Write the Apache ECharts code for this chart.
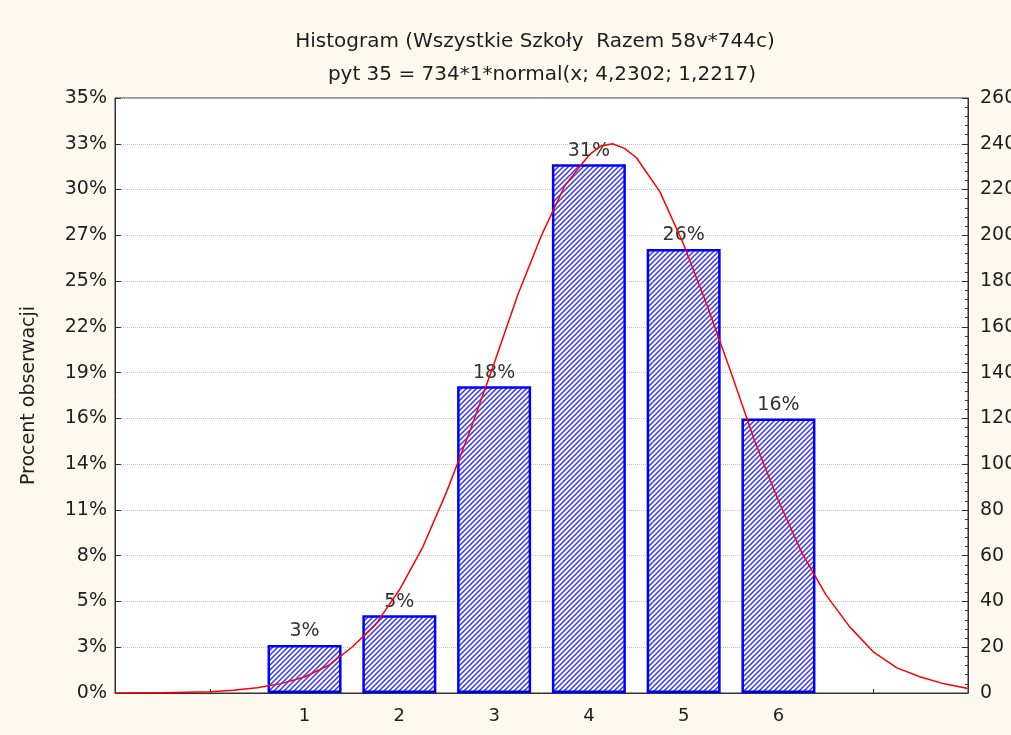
<!DOCTYPE html>
<html>
<head>
<meta charset="utf-8">
<script src="https://cdn.jsdelivr.net/npm/echarts@6/dist/echarts.min.js"></script>
<style>
  html, body { margin: 0; padding: 0; background: #fdf9ef; }
  #main { width: 1011px; height: 735px; }
</style>
</head>
<body>
<div id="main"></div>
<script>
const total = 734
const titleLines = ['Histogram (Wszystkie Szkoły  Razem 58v*744c)', 'pyt 35 = 734*1*normal(x; 4,2302; 1,2217)']
// histogram bins (liczebność)
const binX = [1, 2, 3, 4, 5, 6]
const binCount = [21, 34, 134, 231, 194, 120]
// fitted normal curve
const curveX = [-1, -0.5, 0, 0.25, 0.5, 0.75, 1, 1.25, 1.5, 1.75, 2, 2.25, 2.5, 2.75, 3, 3.25, 3.5, 3.75, 4, 4.125, 4.25, 4.375,
  4.5, 4.75, 5, 5.25, 5.5, 5.75, 6, 6.25, 6.5, 6.75, 7, 7.25, 7.5, 7.75, 8]
const curveY = [0, 0.1, 0.6, 1.2, 2.3, 4.1, 7, 12, 20, 30, 45, 64, 88, 115, 144, 174, 200, 222, 235, 239, 240, 238,
  234, 219, 196, 169, 140, 110, 84, 61, 43, 29, 18, 11, 7, 4, 2]

const font = '"DejaVu Sans", "Liberation Sans", sans-serif'
const txt = '#1e1e1e'

// diagonal hatch pattern for bars
const hatch = document.createElement('canvas')
hatch.width = 5
hatch.height = 5
const hc = hatch.getContext('2d')
hc.fillStyle = '#ffffff'
hc.fillRect(0, 0, 5, 5)
hc.strokeStyle = '#3535ff'
hc.lineWidth = 1.5
hc.beginPath()
hc.moveTo(-1, 6); hc.lineTo(6, -1)
hc.moveTo(-4, 4); hc.lineTo(4, -4)
hc.moveTo(1, 9); hc.lineTo(9, 1)
hc.stroke()

const chart = echarts.init(document.getElementById('main'))
chart.setOption({
  backgroundColor: '#fdf9ef',
  animation: false,
  title: [
    { text: titleLines[0], left: 530, top: 27, textAlign: 'center',
      textStyle: { fontFamily: font, fontSize: 20, fontWeight: 'normal', color: txt } },
    { text: titleLines[1], left: 537, top: 60, textAlign: 'center',
      textStyle: { fontFamily: font, fontSize: 20, fontWeight: 'normal', color: txt } }
  ],
  grid: {
    left: 115, right: 43, top: 98, bottom: 42,
    outerBoundsMode: 'none',
    show: true, backgroundColor: '#ffffff', borderColor: '#333', borderWidth: 1
  },
  xAxis: {
    type: 'value', min: -1, max: 8, interval: 1,
    axisLine: { onZero: false, lineStyle: { color: '#333' } },
    axisTick: { inside: true, length: 4, lineStyle: { color: '#333' } },
    splitLine: { show: false },
    axisLabel: {
      fontFamily: font, fontSize: 18, color: txt, margin: 14,
      formatter: (v) => (binX.indexOf(v) >= 0 ? String(v) : '')
    }
  },
  yAxis: [
    {
      type: 'value', min: 0, max: 260, interval: 20,
      name: 'Procent obserwacji', nameLocation: 'middle', nameGap: 76, nameRotate: 90,
      nameTextStyle: { fontFamily: font, fontSize: 19, color: txt },
      axisLine: { show: true, onZero: false, lineStyle: { color: '#333' } },
      axisTick: { inside: true, length: 6, lineStyle: { color: '#333' } },
      splitLine: { show: true, lineStyle: { color: '#c4c4c4', type: 'dotted' } },
      axisLabel: {
        fontFamily: font, fontSize: 19, color: txt, margin: 8,
        formatter: (v) => Math.round(v / total * 100) + '%'
      }
    },
    {
      type: 'value', min: 0, max: 260, interval: 20, position: 'right',
      axisLine: { show: true, onZero: false, lineStyle: { color: '#333' } },
      axisTick: { inside: true, length: 6, lineStyle: { color: '#333' } },
      minorTick: { show: true, splitNumber: 5, length: 3, lineStyle: { color: '#333' } },
      splitLine: { show: false },
      axisLabel: { fontFamily: font, fontSize: 19, color: txt, margin: 12 }
    }
  ],
  series: [
    {
      type: 'bar',
      yAxisIndex: 0,
      barWidth: 74,
      data: binX.map((x, i) => [x, binCount[i]]),
      itemStyle: {
        color: { image: hatch, repeat: 'repeat' },
        borderColor: '#0000ff',
        borderWidth: 2.5
      },
      label: {
        show: true, position: 'top', distance: 4,
        fontFamily: font, fontSize: 19, color: '#333',
        formatter: (p) => Math.round(p.value[1] / total * 100) + '%'
      },
      z: 2
    },
    {
      type: 'line',
      yAxisIndex: 0,
      smooth: false,
      symbol: 'none',
      data: curveX.map((x, i) => [x, curveY[i]]),
      lineStyle: { color: '#ff0000', width: 1.5, join: 'round' },
      z: 3
    }
  ]
})
</script>
</body>
</html>
